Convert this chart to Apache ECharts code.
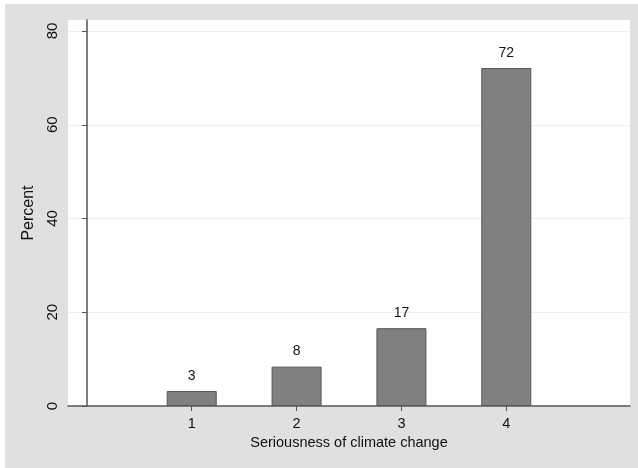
<!DOCTYPE html>
<html><head><meta charset="utf-8">
<script src="https://cdn.jsdelivr.net/npm/echarts@6/dist/echarts.min.js"></script>
<style>html,body{margin:0;padding:0;background:#fff}#c{width:638px;height:468px}</style>
</head><body><div id="c"></div>
<script>
const categories = [1, 2, 3, 4];
const percents = [3.2, 8.4, 16.6, 72.1];
const yTicks = [0, 20, 40, 60, 80];

const chart = echarts.init(document.getElementById('c'), null, {renderer: 'canvas'});
const font = 'Liberation Sans, Arial, Helvetica, sans-serif';
chart.setOption({
  animation: false,
  graphic: [{type: 'rect', z: -10, silent: true, shape: {x: 5, y: 4, width: 633, height: 464}, style: {fill: '#e0e0e0'}}],
  grid: {left: 68, right: 8, top: 20, bottom: 62, show: true, backgroundColor: '#fff', borderWidth: 0},
  xAxis: {
    type: 'value', min: -0.18, max: 5.18,
    name: 'Seriousness of climate change', nameLocation: 'middle', nameGap: 28,
    nameTextStyle: {fontFamily: font, fontSize: 14.5, color: '#111'},
    axisLine: {show: true, lineStyle: {color: '#555', width: 1.5}},
    axisTick: {show: true, length: 5, lineStyle: {color: '#555'}, customValues: categories},
    axisLabel: {customValues: categories, fontFamily: font, fontSize: 14.5, color: '#111', margin: 10},
    splitLine: {show: false}
  },
  yAxis: {
    type: 'value', min: 0, max: 82.35,
    name: 'Percent', nameLocation: 'middle', nameGap: 31,
    nameTextStyle: {fontFamily: font, fontSize: 16, color: '#111'},
    axisLine: {show: true, lineStyle: {color: '#555', width: 1.5}},
    axisTick: {show: true, length: 5, lineStyle: {color: '#555'}, customValues: yTicks},
    axisLabel: {customValues: yTicks, rotate: 90, fontFamily: font, fontSize: 15, color: '#111', margin: 8},
    splitLine: {show: true, lineStyle: {color: '#e8f0f0', width: 1}}
  },
  series: [{
    type: 'bar',
    data: categories.map((c, i) => [c, percents[i]]),
    barWidth: 50,
    itemStyle: {color: '#808080', borderColor: '#555', borderWidth: 1},
    label: {show: true, position: 'top', distance: 8, fontFamily: font, fontSize: 14, color: '#111',
      formatter: p => Math.round(p.value[1])}
  }]
});
</script></body></html>
